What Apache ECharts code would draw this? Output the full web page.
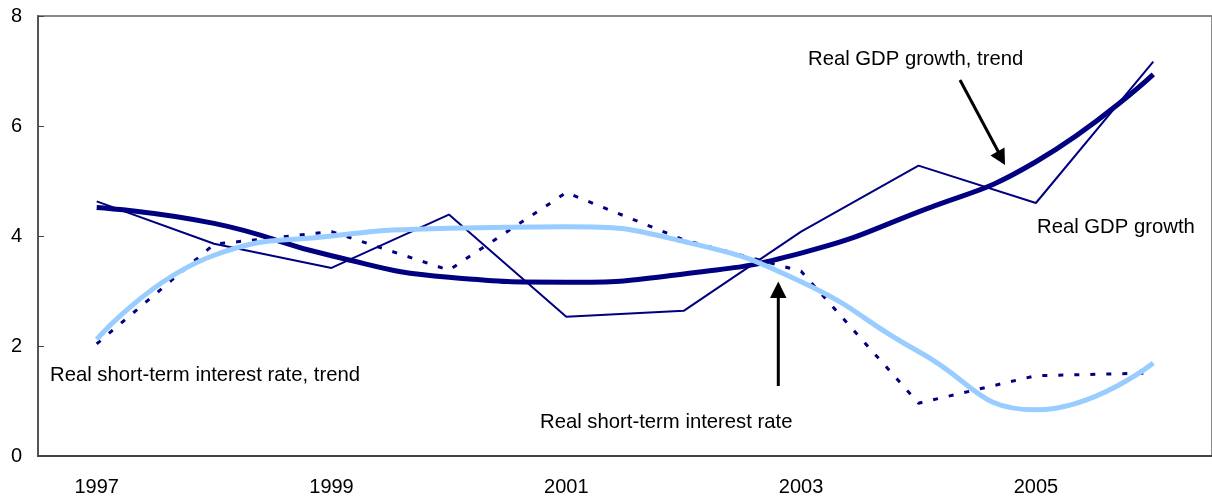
<!DOCTYPE html>
<html>
<head>
<meta charset="utf-8">
<script src="https://cdn.jsdelivr.net/npm/echarts@6/dist/echarts.min.js"></script>
<style>
  html, body { margin: 0; padding: 0; background: #fff; }
  #chart { width: 1212px; height: 498px; }
</style>
</head>
<body>
<div id="chart"></div>
<script>
// years on the x axis
const years = ['1997', '1998', '1999', '2000', '2001', '2002', '2003', '2004', '2005', '2006'];
// real GDP growth, %
const gdpGrowth = [4.63, 3.86, 3.42, 4.39, 2.53, 2.64, 4.08, 5.28, 4.60, 7.17];
// real short-term interest rate, %
const shortRate = [2.04, 3.85, 4.08, 3.38, 4.79, 3.93, 3.36, 0.96, 1.46, 1.51];
// trends
const gdpTrend = [4.52, 4.23, 3.64, 3.25, 3.16, 3.31, 3.69, 4.44, 5.35, 6.94];
const rateTrend = [2.12, 3.65, 4.00, 4.14, 4.17, 3.90, 3.17, 1.90, 0.84, 1.69];
const yTicks = [0, 2, 4, 6, 8];

const FONT = '"Liberation Sans", Arial, sans-serif';
const NAVY = '#000080';
const LIGHT = '#99ccff';

const chart = echarts.init(document.getElementById('chart'));

const noteStyle = (text, x, y) => ({
  type: 'text',
  x: x,
  y: y,
  z: 100,
  style: { text: text, fill: '#000', font: '20.3px ' + FONT, textVerticalAlign: 'middle' }
});

chart.setOption({
  animation: false,
  grid: {
    left: 38, top: 16, width: 1175, height: 440,
    show: true, borderColor: '#888', borderWidth: 2
  },
  xAxis: {
    type: 'category',
    data: years,
    boundaryGap: true,
    axisLine: { lineStyle: { color: '#444', width: 2 } },
    axisTick: { inside: true, length: 6, interval: 0, lineStyle: { color: '#444', width: 1 } },
    axisLabel: { interval: 1, margin: 21, color: '#000', fontSize: 20, fontFamily: FONT },
    splitLine: { show: false }
  },
  yAxis: {
    type: 'value',
    min: yTicks[0],
    max: yTicks[yTicks.length - 1],
    interval: 2,
    axisLine: { show: true, lineStyle: { color: '#555', width: 2 } },
    axisTick: { show: true, inside: true, length: 6, lineStyle: { color: '#444', width: 1 } },
    axisLabel: { margin: 16, color: '#000', fontSize: 20, fontFamily: FONT },
    splitLine: { show: false }
  },
  series: [
    {
      name: 'Real GDP growth',
      type: 'line',
      data: gdpGrowth,
      symbol: 'none',
      lineStyle: { color: NAVY, width: 2 },
      z: 2
    },
    {
      name: 'Real short-term interest rate',
      type: 'line',
      data: shortRate,
      symbol: 'none',
      lineStyle: { color: NAVY, width: 3, type: [5, 11], cap: 'butt' },
      z: 3
    },
    {
      name: 'Real GDP growth, trend',
      type: 'line',
      data: gdpTrend,
      smooth: true,
      symbol: 'none',
      lineStyle: { color: NAVY, width: 5 },
      z: 4
    },
    {
      name: 'Real short-term interest rate, trend',
      type: 'line',
      data: rateTrend,
      smooth: true,
      symbol: 'none',
      lineStyle: { color: LIGHT, width: 5 },
      z: 5
    }
  ],
  graphic: [
    noteStyle('Real GDP growth, trend', 808, 59),
    noteStyle('Real GDP growth', 1037, 227),
    noteStyle('Real short-term interest rate, trend', 50, 375),
    noteStyle('Real short-term interest rate', 540, 422),
    // arrow to GDP trend
    { type: 'line', z: 100, shape: { x1: 960, y1: 80, x2: 999, y2: 153 }, style: { stroke: '#000', lineWidth: 3 } },
    { type: 'polygon', z: 100, shape: { points: [[990.5, 155.5], [1004.5, 147.5], [1005, 165]] }, style: { fill: '#000' } },
    // arrow to interest rate
    { type: 'line', z: 100, shape: { x1: 778.3, y1: 386, x2: 778.3, y2: 296 }, style: { stroke: '#000', lineWidth: 3 } },
    { type: 'polygon', z: 100, shape: { points: [[770, 298], [786.5, 298], [778.3, 281.5]] }, style: { fill: '#000' } }
  ]
});
</script>
</body>
</html>
